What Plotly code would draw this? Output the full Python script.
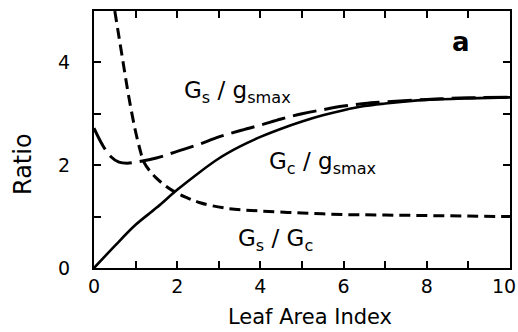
import plotly.graph_objects as go

# Gs / gsmax (long dashed)
gs_x = [0, 0.2, 0.4, 0.6, 0.8, 1.0, 1.5, 2.0, 2.5, 3.0, 3.5, 4.0, 4.5, 5.0, 5.5, 6.0, 6.5, 7.0, 8.0, 9.0, 10.0]
gs_y = [2.72, 2.4, 2.17, 2.06, 2.04, 2.06, 2.14, 2.27, 2.4, 2.55, 2.67, 2.78, 2.9, 3.0, 3.08, 3.15, 3.2, 3.23, 3.28, 3.31, 3.32]

# Gc / gsmax (solid)
gc_x = [0, 0.5, 1.0, 1.5, 2.0, 2.5, 3.0, 3.5, 4.0, 4.5, 5.0, 5.5, 6.0, 6.5, 7.0, 7.5, 8.0, 9.0, 10.0]
gc_y = [0, 0.43, 0.84, 1.17, 1.52, 1.84, 2.13, 2.36, 2.55, 2.71, 2.85, 2.97, 3.07, 3.15, 3.2, 3.24, 3.27, 3.3, 3.32]

# Gs / Gc (short dashed)
r_x = [0.5, 0.6, 0.7, 0.8, 0.9, 1.0, 1.1, 1.2, 1.35, 1.5, 1.7, 1.9, 2.2, 2.55, 3.2, 4.0, 5.0, 6.0, 7.0, 8.0, 9.0, 10.0]
r_y = [5.0, 4.5, 4.0, 3.5, 3.05, 2.65, 2.32, 2.06, 1.88, 1.75, 1.61, 1.5, 1.38, 1.27, 1.16, 1.11, 1.07, 1.04, 1.03, 1.02, 1.01, 1.0]

x_ticks = [0, 2, 4, 6, 8, 10]
y_ticks = [0, 2, 4]

FONT = "DejaVu Sans"

fig = go.Figure()
fig.add_trace(go.Scatter(x=gs_x, y=gs_y, mode="lines", line=dict(color="black", width=3, dash="24px,8px", shape="spline"), showlegend=False))
fig.add_trace(go.Scatter(x=gc_x, y=gc_y, mode="lines", line=dict(color="black", width=2.6, shape="spline"), showlegend=False))
fig.add_trace(go.Scatter(x=r_x, y=r_y, mode="lines", line=dict(color="black", width=3, dash="11px,6px", shape="spline"), showlegend=False))

axis_common = dict(
    showgrid=False, zeroline=False, showline=True, linecolor="black", linewidth=2,
    mirror="allticks", ticks="inside", ticklen=7, tickwidth=2, tickcolor="black",
    tickfont=dict(family=FONT, size=19, color="black"),
    ticklabeloverflow="allow", automargin=False,
)

x_all = list(range(0, 11))
y_all = list(range(0, 6))


def x_label(v):
    if v not in x_ticks:
        return ""
    return str(v) + ("\u00a0\u00a0" if v == 10 else "")


fig.update_xaxes(range=[0, 10], tickmode="array", tickvals=x_all,
                 ticktext=[x_label(v) for v in x_all], **axis_common)
fig.update_yaxes(range=[0, 5], tickmode="array", tickvals=y_all,
                 ticktext=[(str(v) + "\u00a0\u00a0\u00a0") if v in y_ticks else "" for v in y_all],
                 **axis_common)

ann_font = dict(family=FONT, size=23, color="black")
fig.add_annotation(x=3.45, y=3.42, text="G<sub>s</sub> / g<sub>smax</sub>", showarrow=False, font=ann_font)
fig.add_annotation(x=5.5, y=2.04, text="G<sub>c</sub> / g<sub>smax</sub>", showarrow=False, font=ann_font)
fig.add_annotation(x=4.36, y=0.54, text="G<sub>s</sub> / G<sub>c</sub>", showarrow=False, font=ann_font)
fig.add_annotation(x=8.82, y=4.39, text="<b>a</b>", showarrow=False, font=dict(family=FONT, size=26, color="black"))

# axis titles
fig.add_annotation(xref="paper", yref="paper", x=(310 - 94) / 416, y=(268 - 317) / 257,
                   xanchor="center", yanchor="middle",
                   text="Leaf Area Index", showarrow=False, font=dict(family=FONT, size=21, color="black"))
fig.add_annotation(xref="paper", yref="paper", x=(23 - 94) / 416, y=(268 - 164) / 257,
                   xanchor="center", yanchor="middle",
                   text="Ratio", textangle=-90, showarrow=False, font=dict(family=FONT, size=24, color="black"))

fig.update_layout(
    width=518, height=332,
    margin=dict(l=94, r=8, t=11, b=64, autoexpand=False),
    paper_bgcolor="white", plot_bgcolor="white",
)

fig.write_html("out.html")
